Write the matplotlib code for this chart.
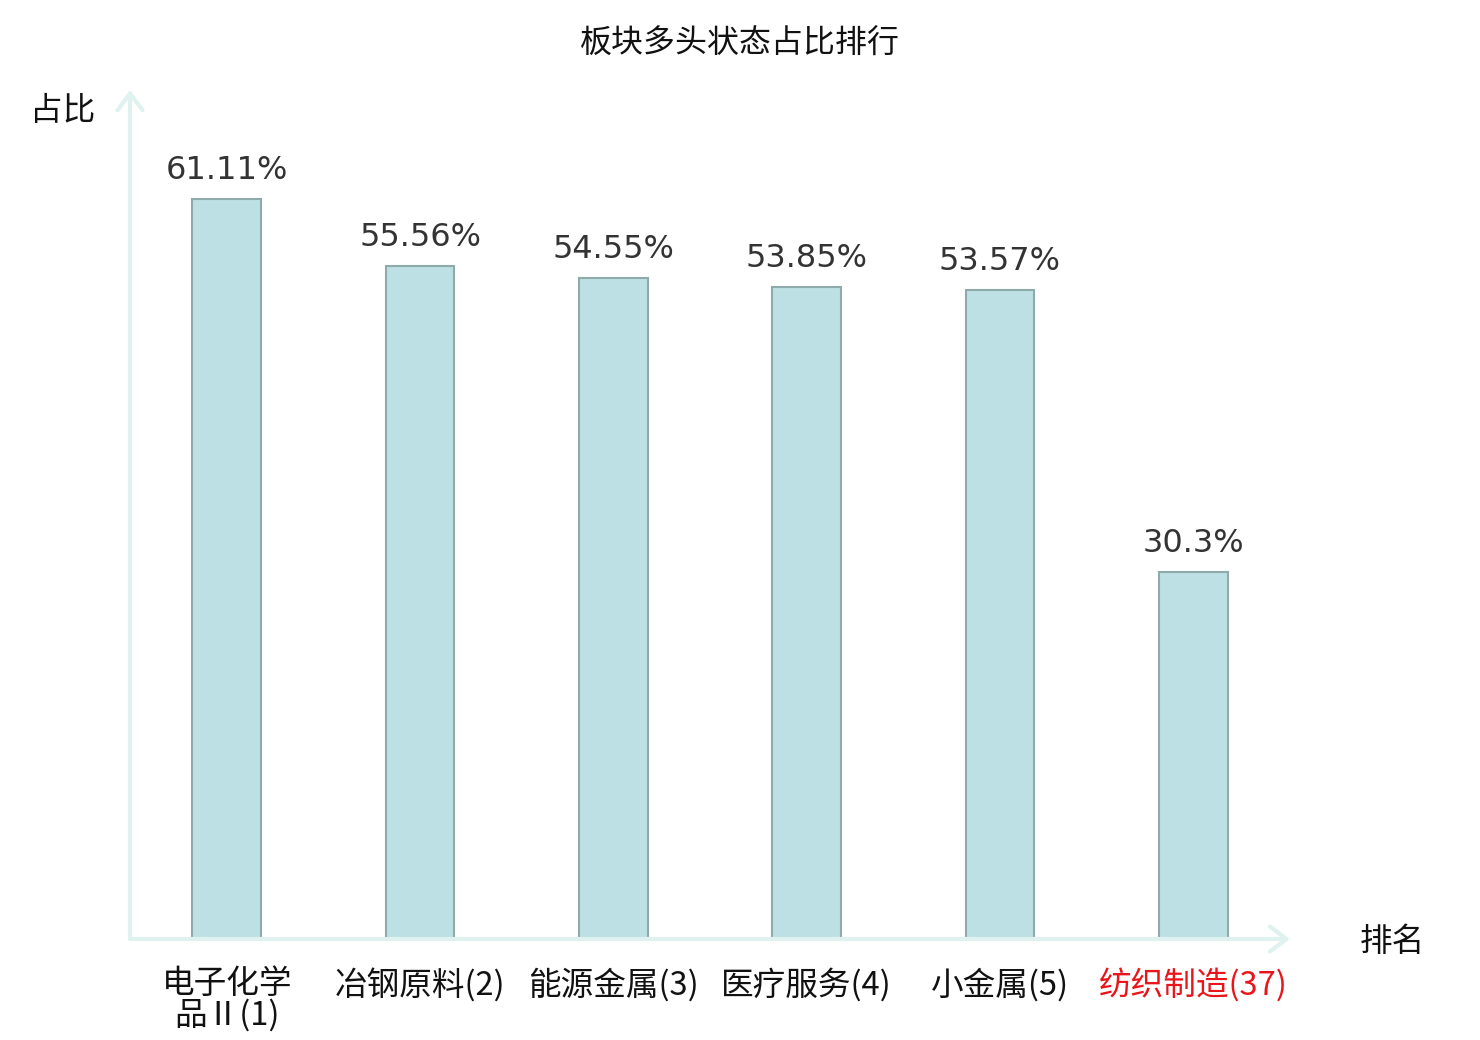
import matplotlib
matplotlib.use("Agg")
import matplotlib.pyplot as plt

plt.rcParams['font.family'] = ['Noto Sans CJK SC', 'DejaVu Sans']

title = "板块多头状态占比排行"
categories = ["电子化学\n品Ⅱ(1)", "冶钢原料(2)", "能源金属(3)", "医疗服务(4)", "小金属(5)", "纺织制造(37)"]
values = [61.11, 55.56, 54.55, 53.85, 53.57, 30.3]
label_colors = ["#111111", "#111111", "#111111", "#111111", "#111111", "#e8161b"]
y_name = "占比"
x_name = "排名"

fig = plt.figure(figsize=(14.8, 10.4), dpi=100)
ax = fig.add_axes([130/1480, (1040-939)/1040, (1290-130)/1480, (939-90)/1040])

x = list(range(len(categories)))
ax.bar(x, values, width=0.355, color="#bce0e3", edgecolor="#8eaaaa", linewidth=1.5, zorder=3)
ax.set_xlim(-0.5, len(categories) - 0.5)
ax.set_ylim(0, 70.1)

for xi, v in zip(x, values):
    ax.annotate(f"{v:g}%", xy=(xi, v), xytext=(0, 9.5), textcoords="offset points",
                ha="center", va="bottom", fontsize=23, color="#333333",
                family=["DejaVu Sans"])

for s in ax.spines.values():
    s.set_visible(False)
ax.set_yticks([])
ax.set_xticks(x)
ax.set_xticklabels(categories, fontsize=23.5, linespacing=0.95)
for lbl, c in zip(ax.get_xticklabels(), label_colors):
    lbl.set_color(c)
    lbl.set_multialignment("center")
ax.tick_params(axis="x", length=0, pad=21)

axis_col = "#dff2ef"
ax.annotate("", xy=(1, 0), xytext=(0, 0), xycoords="axes fraction",
            arrowprops=dict(arrowstyle="->,head_length=0.6,head_width=0.45", color=axis_col,
                            lw=3, mutation_scale=20, shrinkA=0, shrinkB=0), annotation_clip=False)
ax.annotate("", xy=(0, 1), xytext=(0, 0), xycoords="axes fraction",
            arrowprops=dict(arrowstyle="->,head_length=0.6,head_width=0.45", color=axis_col,
                            lw=3, mutation_scale=20, shrinkA=0, shrinkB=0), annotation_clip=False)

fig.text(740/1480, 1 - 44/1040, title, ha="center", va="center", fontsize=23, color="#111111")
fig.text(63/1480, 1 - 111/1040, y_name, ha="center", va="center", fontsize=23.5, color="#111111")
fig.text(1392/1480, 1 - 942/1040, x_name, ha="center", va="center", fontsize=23.5, color="#111111")

fig.savefig("out.png", dpi=100)
